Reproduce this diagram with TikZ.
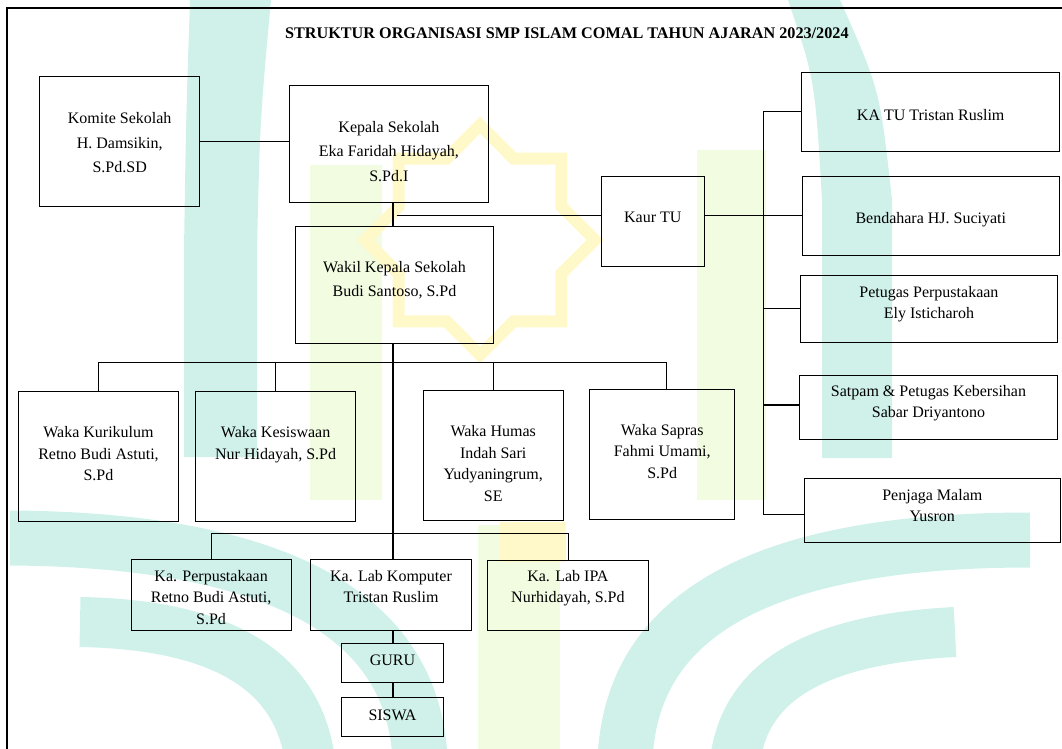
\documentclass[tikz,border=0pt]{standalone}
\usepackage{fontspec}
\setmainfont{Liberation Serif}
\usetikzlibrary{positioning}
\definecolor{wmcyan}{RGB}{207,241,234}
\definecolor{wmgreen}{RGB}{241,252,224}
\definecolor{wmyellow}{RGB}{255,248,200}

\tikzset{
  box/.style={draw, line width=0.9pt, inner sep=0pt},
  txt/.style={inner sep=0pt, align=center, font=\fontsize{16}{21.5}\selectfont},
  txtbig/.style={txt, font=\fontsize{16}{24.5}\selectfont},
  link/.style={line width=0.8pt},
  trunk/.style={line width=2.2pt},
}

\begin{document}
\begin{tikzpicture}[x=1pt, y=-1pt]
\useasboundingbox (0,0) rectangle (1062,749);
\clip (0,0) rectangle (1062,749);

% watermark
\fill[wmcyan] (190,0) .. controls (186,120) .. (184,250) -- (184,457) -- (257,457)
  -- (257,250) .. controls (260,120) .. (271,0) -- cycle;
\fill[wmcyan] (788,0) .. controls (815,80) .. (822,200) -- (822,458) -- (892,458)
  -- (892,200) .. controls (880,90) .. (840,0) -- cycle;
\fill[wmgreen] (310,165) rectangle (382,500);
\fill[wmgreen] (697,150) rectangle (766,500);
\fill[wmgreen] (478,525) rectangle (560,749);
\fill[wmyellow] (500,522) rectangle (566,562);
\begin{scope}[shift={(480,240)}]
\draw[wmyellow, line width=12pt, line join=miter] (0:115)
  \foreach \k in {1,...,15} { -- ({\k*22.5}:{mod(\k,2)==0 ? 115 : 88}) } -- cycle;
\end{scope}
\draw[wmcyan, line width=55pt] (625,760) .. controls (630,640) and (720,540) .. (1030,540);
\draw[wmcyan, line width=50pt] (735,760) .. controls (745,690) and (800,640) .. (955,632);
\draw[wmcyan, line width=55pt] (420,760) .. controls (415,640) and (320,540) .. (10,538);
\draw[wmcyan, line width=50pt] (310,760) .. controls (300,690) and (250,625) .. (80,622);

% frame
\draw[line width=2pt] (7.4,760) -- (7.4,8.3) -- (1070,8.3);

\node[font=\fontsize{16.2}{20}\selectfont\bfseries] (title) at (566.9,33.3)
  {STRUKTUR ORGANISASI SMP ISLAM COMAL TAHUN AJARAN 2023/2024};

% pimpinan
\node[box, minimum width=160.2pt, minimum height=130pt] (komite) at (119.7,141.7) {};
\node[txtbig, below=36pt of komite.north] (komiteT) {Komite Sekolah\\H. Damsikin,\\S.Pd.SD};
\node[box, minimum width=198.7pt, minimum height=116.6pt] (kepala) at (388.9,144) {};
\node[txtbig, below=35.5pt of kepala.north] (kepalaT) {Kepala Sekolah\\Eka Faridah Hidayah,\\S.Pd.I};
\node[box, minimum width=197.7pt, minimum height=117.3pt] (wakil) at (394.5,284.7) {};
\node[txtbig, below=35.2pt of wakil.north] (wakilT) {Wakil Kepala Sekolah\\Budi Santoso, S.Pd};

% tata usaha
\node[box, minimum width=103.3pt, minimum height=90.7pt] (kaur) at (652.8,221.3) {};
\node[txt, below=36.8pt of kaur.north] (kaurT) {Kaur TU};
\node[box, minimum width=257.6pt, minimum height=78.7pt] (katu) at (930.7,111.7) {};
\node[txt, below=37.2pt of katu.north] (katuT) {KA TU Tristan Ruslim};
\node[box, minimum width=257.5pt, minimum height=78.3pt] (bendahara) at (930.8,215.8) {};
\node[txt, below=36pt of bendahara.north] (bendaharaT) {Bendahara HJ. Suciyati};
\node[box, minimum width=257.3pt, minimum height=67.7pt] (petugas) at (928.9,308.8) {};
\node[txt, below=11.2pt of petugas.north] (petugasT) {Petugas Perpustakaan\\Ely Isticharoh};
\node[box, minimum width=258pt, minimum height=64.3pt] (satpam) at (928.5,407.2) {};
\node[txt, below=10.2pt of satpam.north] (satpamT) {Satpam \& Petugas Kebersihan\\Sabar Driyantono};
\node[box, minimum width=255.4pt, minimum height=64.4pt] (penjaga) at (932.3,510.5) {};
\node[txt, below=11.2pt of penjaga.north] (penjagaT) {Penjaga Malam\\Yusron};

% waka
\node[box, minimum width=159.8pt, minimum height=129.3pt] (kurikulum) at (98.5,456.3) {};
\node[txt, below=35pt of kurikulum.north] (kurikulumT) {Waka Kurikulum\\Retno Budi Astuti,\\S.Pd};
\node[box, minimum width=159.8pt, minimum height=129.3pt] (kesiswaan) at (275.6,456.3) {};
\node[txt, below=35pt of kesiswaan.north] (kesiswaanT) {Waka Kesiswaan\\Nur Hidayah, S.Pd};
\node[box, minimum width=140pt, minimum height=130pt] (humas) at (493.2,455) {};
\node[txt, below=36pt of humas.north] (humasT) {Waka Humas\\Indah Sari\\Yudyaningrum,\\SE};
\node[box, minimum width=145.2pt, minimum height=130pt] (sapras) at (662.2,454.3) {};
\node[txt, below=35pt of sapras.north] (saprasT) {Waka Sapras\\Fahmi Umami,\\S.Pd};

% kepala unit
\node[box, minimum width=160.2pt, minimum height=70.7pt] (kaperpus) at (211.1,594.7) {};
\node[txt, below=11pt of kaperpus.north] (kaperpusT) {Ka. Perpustakaan\\Retno Budi Astuti,\\S.Pd};
\node[box, minimum width=160.5pt, minimum height=70.7pt] (labkom) at (391,594.7) {};
\node[txt, below=11pt of labkom.north] (labkomT) {Ka. Lab Komputer\\Tristan Ruslim};
\node[box, minimum width=160.6pt, minimum height=70pt] (labipa) at (567.9,595) {};
\node[txt, below=10.5pt of labipa.north] (labipaT) {Ka. Lab IPA\\Nurhidayah, S.Pd};
\node[box, minimum width=102.3pt, minimum height=39.4pt] (guru) at (392.5,663) {};
\node[txt, below=12pt of guru.north] (guruT) {GURU};
\node[box, minimum width=102.3pt, minimum height=39pt] (siswa) at (392.5,717.2) {};
\node[txt, below=12pt of siswa.north] (siswaT) {SISWA};

% jalur garis
\coordinate (spine) at (392.7,0);
\coordinate (tu) at (396.7,215.7);
\coordinate (bus) at (763.3,0);
\coordinate (wk) at (0,362.3);
\coordinate (ka) at (0,533.3);

\draw[link] (komite.east) -- (komite.east -| kepala.west);
\draw[trunk] (kepala.south -| spine) -- (wakil.north -| spine);
\draw[link] (tu) -- (tu -| kaur.west);
\draw[link] (tu -| kaur.east) -- (tu -| bendahara.west);
\draw[link] (katu.west -| bus) -- ([yshift=-4pt]penjaga.west -| bus);
\draw[link] (katu.west -| bus) -- (katu.west);
\draw[link] (petugas.west -| bus) -- (petugas.west);
\draw[trunk, line width=1.6pt] ([yshift=2pt]satpam.west -| bus) -- ([yshift=2pt]satpam.west);
\draw[trunk, line width=1.6pt] ([yshift=-4pt]penjaga.west -| bus) -- ([yshift=-4pt]penjaga.west);

\draw[trunk] (wakil.south -| spine) -- (labkom.north -| spine);
\draw[link] (kurikulum.north |- wk) -- ([xshift=4pt]sapras.north |- wk);
\draw[link] (kurikulum.north |- wk) -- (kurikulum.north);
\draw[link] (kesiswaan.north |- wk) -- (kesiswaan.north);
\draw[link] (humas.north |- wk) -- (humas.north);
\draw[link] ([xshift=4pt]sapras.north |- wk) -- ([xshift=4pt]sapras.north);

\draw[link] (kaperpus.north |- ka) -- (labipa.north |- ka);
\draw[link] (kaperpus.north |- ka) -- (kaperpus.north);
\draw[link] (labipa.north |- ka) -- (labipa.north);

\draw[trunk] (labkom.south -| spine) -- (guru.north -| spine);
\draw[trunk] (guru.south -| spine) -- (siswa.north -| spine);
\end{tikzpicture}
\end{document}
